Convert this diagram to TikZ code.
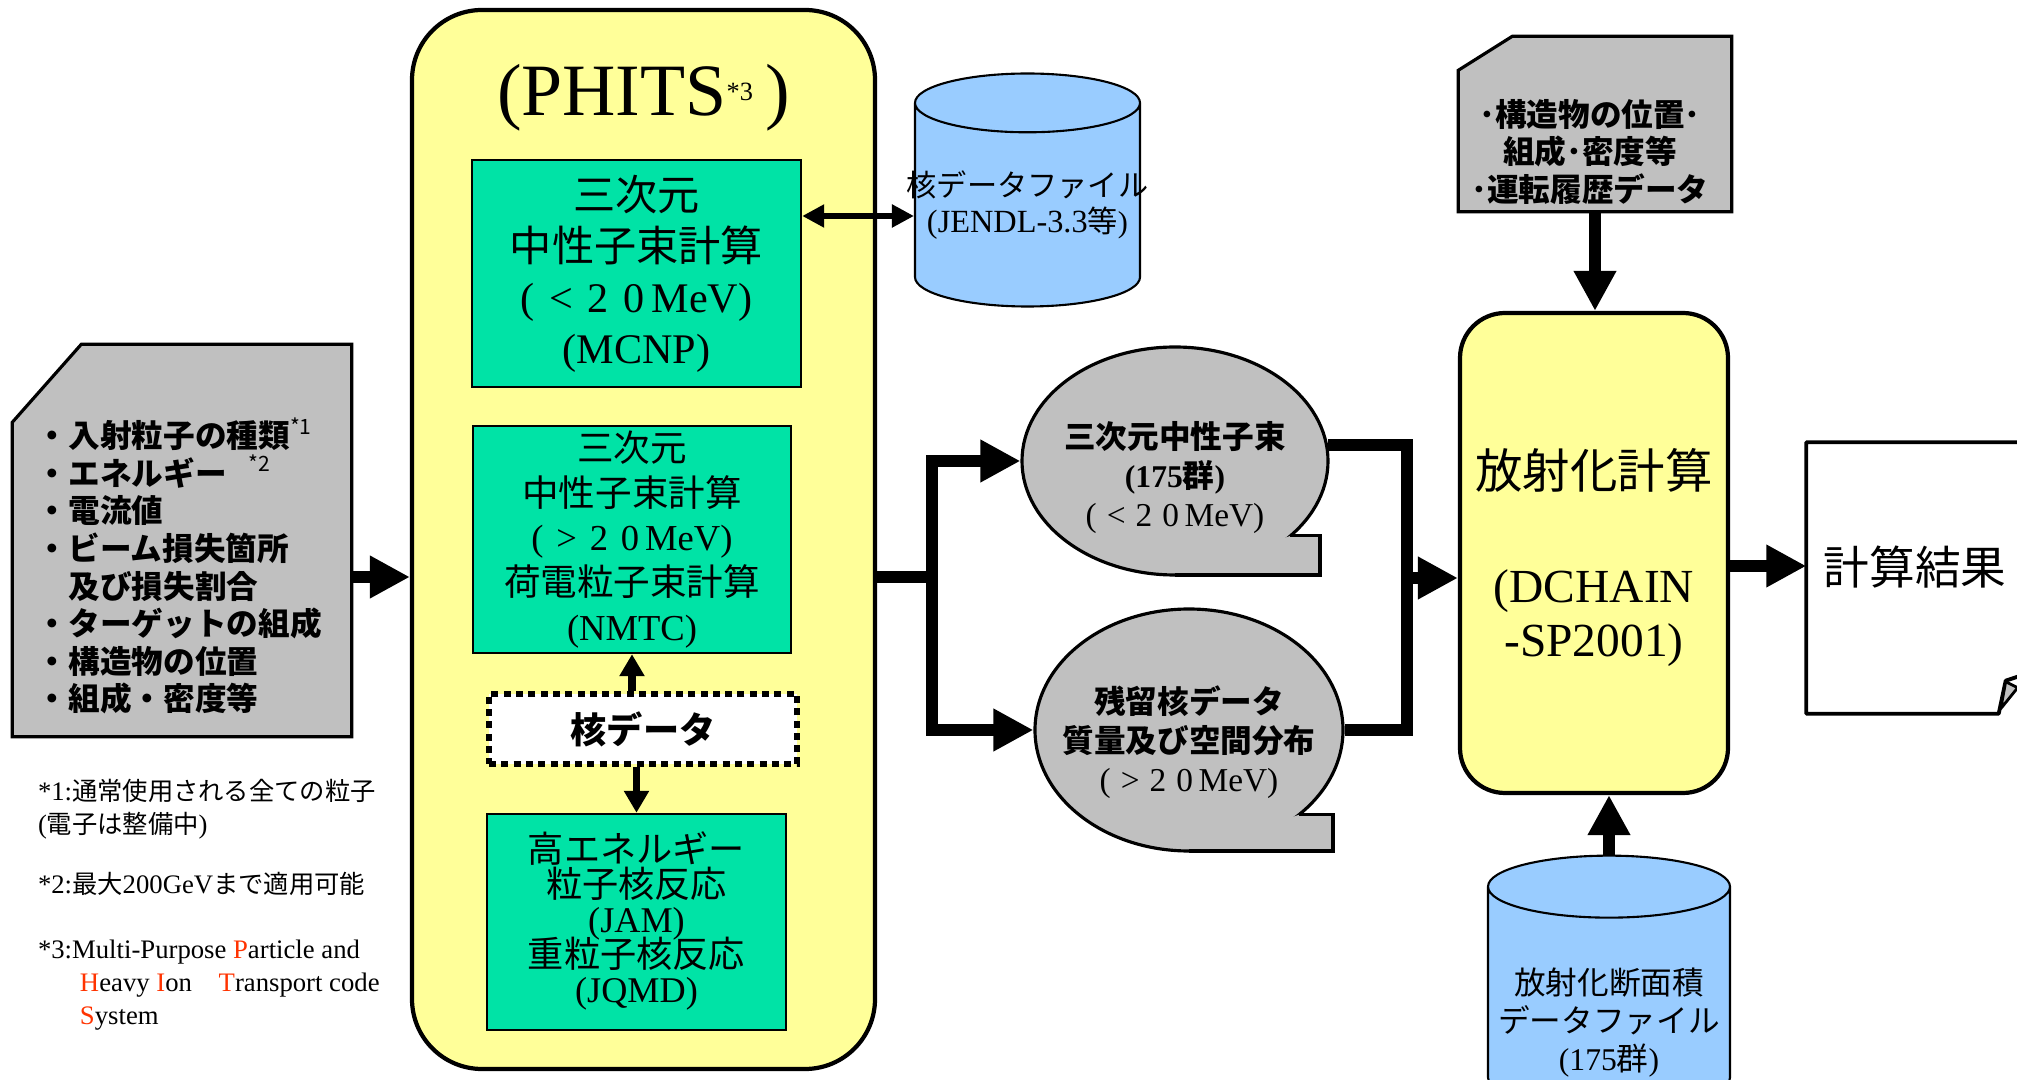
\documentclass[tikz,border=0pt]{standalone}
\usepackage{fontspec}
\setmainfont{Noto Sans CJK JP}
\newfontfamily\tm{Liberation Serif}
\usepackage{xcolor}
\usepackage{tikz}
\usetikzlibrary{positioning, arrows.meta, shapes.geometric}

\definecolor{phitsyellow}{HTML}{FFFF99}
\definecolor{codegreen}{HTML}{00E3A6}
\definecolor{datagray}{HTML}{C0C0C0}
\definecolor{fileblue}{HTML}{99CCFF}
\definecolor{notered}{HTML}{FF3300}

\newcommand\notetm{\tm\fontsize{7.6}{9.4}\selectfont}

\begin{document}
\begin{tikzpicture}[
    phitsbox/.style={
        draw,
        line width=1.2pt,
        fill=phitsyellow,
        rounded corners=7mm,
        minimum width=4.63cm,
        minimum height=10.59cm
    },
    calcbox/.style={
        draw,
        line width=1.2pt,
        fill=phitsyellow,
        rounded corners=4.5mm,
        align=center,
        inner sep=0pt,
        font=\fontsize{13.5}{15.4}\selectfont
    },
    module/.style={
        draw,
        line width=0.7pt,
        fill=codegreen,
        align=center,
        inner sep=0pt
    },
    nucdata/.style={
        draw,
        line width=1.6pt,
        dash pattern=on 2pt off 1.5pt,
        fill=white,
        minimum width=3.08cm,
        minimum height=0.70cm,
        font=\bfseries\fontsize{10.3}{12}\selectfont
    },
    card/.style={inner sep=0pt},
    cardline/.style={draw, line width=0.9pt, fill=datagray},
    items/.style={inner sep=0pt, align=left, font=\bfseries\fontsize{9}{10.7}\selectfont},
    drum/.style={
        cylinder,
        shape border rotate=90,
        aspect=0.28,
        draw,
        line width=0.6pt,
        fill=fileblue,
        align=center,
        inner sep=0pt
    },
    bubble/.style={
        ellipse,
        draw,
        line width=0.9pt,
        fill=datagray,
        align=center,
        inner xsep=-2mm,
        inner ysep=0pt,
        font=\bfseries\fontsize{9}{11}\selectfont
    },
    tail/.style={draw, line width=0.9pt, fill=datagray},
    doc/.style={draw, line width=1.1pt, line join=round},
    fold/.style={draw, line width=0.8pt, fill=datagray, line join=round},
    notes/.style={inner sep=0pt, align=left, font=\fontsize{7.2}{9.4}\selectfont},
    fat/.style={line width=3.2pt},
    fatarr/.style={-{Triangle[length=4mm, width=4mm]}, line width=3.2pt},
    thinarr/.style={-{Triangle[length=2.2mm, width=2.4mm]}, line width=2pt},
    dblarr/.style={{Triangle[length=2.2mm, width=2.2mm]}-{Triangle[length=2.2mm, width=2.2mm]}, line width=1.5pt}
]

\useasboundingbox (0, 0) rectangle (20.17, 10.79);
\clip (0, 0) rectangle (20.17, 10.79);

\node[card, minimum width=3.38cm, minimum height=3.91cm] (inp) at (1.82, 5.385) {};
\draw[cardline] (inp.south west) -- (inp.south east) -- (inp.north east)
    -- ([xshift=6.9mm]inp.north west) -- ([yshift=-7.8mm]inp.north west) -- cycle;
\node[items, anchor=west] (inplist) at ([xshift=2.4mm, yshift=-2.55mm]inp.west)
    {・入射粒子の種類\textsuperscript{\mdseries *1}\\
     ・エネルギー\hspace{0.7em}\textsuperscript{\mdseries *2}\\
     ・電流値\\
     ・ビーム損失箇所\\
     　及び損失割合\\
     ・ターゲットの組成\\
     ・構造物の位置\\
     ・組成・密度等};

\node[notes, below right=4.2mm and 2.5mm of inp.south west] (notes)
    {{\notetm*1:}通常使用される全ての粒子\\
     {\notetm(}電子は整備中{\notetm)}\\[7.7pt]
     {\notetm*2:}最大{\notetm200GeV}まで適用可能\\[9.1pt]
     {\notetm*3:Multi-Purpose \textcolor{notered}{P}article and}\\
     {\notetm\hspace*{4.2mm}\textcolor{notered}{H}eavy \textcolor{notered}{I}on\quad\textcolor{notered}{T}ransport code}\\
     {\notetm\hspace*{4.2mm}\textcolor{notered}{S}ystem}};

\node[phitsbox] (phits) at (6.435, 5.395) {};
\node[below=5.6mm of phits.north, inner sep=0pt, font=\tm\fontsize{21}{24}\selectfont] (phitsname)
    {(PHITS\raisebox{0.45ex}{\fontsize{7.5}{8}\selectfont *3}\,)};

\node[module, minimum width=3.29cm, minimum height=2.27cm, font=\fontsize{12}{14.5}\selectfont] (mcnp) at (6.365, 8.055)
    {三次元\\中性子束計算\\{\tm(\hspace{0.35em}<\hspace{0.35em}2\hspace{0.35em}0\,MeV)}\\{\tm(MCNP)}};
\node[module, minimum width=3.18cm, minimum height=2.27cm, font=\fontsize{10.4}{12.7}\selectfont] (nmtc) at (6.32, 5.395)
    {三次元\\中性子束計算\\{\tm(\hspace{0.35em}>\hspace{0.35em}2\hspace{0.35em}0\,MeV)}\\荷電粒子束計算\\{\tm(NMTC)}};
\node[nucdata] (nuc) at (6.43, 3.50) {核データ};
\node[module, minimum width=2.99cm, minimum height=2.16cm,
      font=\fontsize{10.3}{10}\selectfont\setlength{\lineskiplimit}{-5pt}] (jam) at (6.365, 1.57)
    {高エネルギー\\粒子核反応\\{\tm(JAM)}\\重粒子核反応\\{\tm(JQMD)}\rule[-1mm]{0pt}{0pt}};

\node[drum, anchor=shape center, minimum width=2.25cm, minimum height=2.33cm,
      font=\fontsize{8.6}{10.3}\selectfont] (jendl) at (10.275, 8.89)
    {\makebox[2.1cm]{核データファイル}\\{\tm\fontsize{9.2}{10.3}\selectfont(JENDL-3.3}等{\tm)}};

\node[bubble, minimum width=3.06cm, minimum height=2.28cm] (flux) at (11.75, 6.18)
    {\rule{0pt}{6mm}三次元中性子束\\{\tm(175}群{\tm)}\\{\mdseries\tm\fontsize{9.5}{11}\selectfont(\hspace{0.3em}<\hspace{0.3em}2\hspace{0.3em}0\,MeV)}};
\path[tail] ([shift={(1.153,-0.749)}]flux.center) -- ++(0.297, 0) -- ++(0, -0.391) -- ++(-1.45, 0);
\node[bubble, minimum width=3.08cm, minimum height=2.42cm] (resid) at (11.89, 3.49)
    {\rule{0pt}{5.2mm}残留核データ\\質量及び空間分布\\{\mdseries\tm\fontsize{9.5}{11}\selectfont(\hspace{0.3em}>\hspace{0.3em}2\hspace{0.3em}0\,MeV)}};
\path[tail] ([shift={(1.096,-0.849)}]resid.center) -- ++(0.344, 0) -- ++(0, -0.361) -- ++(-1.44, 0);

\node[calcbox, minimum width=2.68cm, minimum height=4.80cm] (dchain) at (15.94, 5.26)
    {\rule{0pt}{5mm}放射化計算\\[17pt]{\tm(DCHAIN}\\{\tm-SP2001)}};

\node[card, minimum width=2.72cm, minimum height=1.74cm] (geo) at (15.95, 9.55) {};
\draw[cardline] (geo.south west) -- (geo.south east) -- (geo.north east)
    -- ([xshift=5.4mm]geo.north west) -- ([yshift=-3.4mm]geo.north west) -- cycle;
\node[items, align=center] (geolist) at ([xshift=-0.5mm, yshift=-2.8mm]geo.center)
    {･構造物の位置･\\組成･密度等\\･運転履歴データ};

\node[drum, anchor=shape center, minimum width=2.42cm, minimum height=2.20cm,
      font=\fontsize{9}{10.8}\selectfont] (xsec) at (16.09, 0.97)
    {\rule{0pt}{7.6mm}放射化断面積\\データファイル\\{\tm(175}群{\tm)}};

\node[inner sep=0pt, minimum width=2.16cm, minimum height=2.70cm, font=\fontsize{13}{15}\selectfont] (res) at (19.15, 5.01)
    {\raisebox{-0.7mm}[0pt][0pt]{計算結果}};
\draw[doc] (res.north east) -- (res.north west) -- (res.south west) -- ([xshift=-2.5mm]res.south east)
    -- ([xshift=-1.8mm, yshift=3.3mm]res.south east) -- ([yshift=3.9mm]res.south east);
\path[fold] ([xshift=-2.3mm, yshift=0.5mm]res.south east) -- ([xshift=-1.8mm, yshift=3.2mm]res.south east)
    -- ([xshift=-0.6mm, yshift=2.6mm]res.south east) -- cycle;

\coordinate (fork) at (9.32, 5.02);
\coordinate (join) at (14.07, 5.01);

\draw[fatarr] (inp.east |- fork) -- (phits.west |- fork);
\draw[dblarr] ([yshift=5.75mm]mcnp.east) -- ([yshift=5.75mm]mcnp.east -| jendl.west);
\draw[thinarr] (nuc.north -| nmtc.south) -- (nmtc.south);
\draw[thinarr] (nuc.south -| jam.north) -- (jam.north);

\draw[fat] (phits.east |- fork) -- (fork);
\draw[fatarr] (fork) |- (flux.west);
\draw[fatarr] (fork) |- (resid.west);

\draw[fat] (flux.6) -| (join);
\draw[fat] (resid.east) -| (join);
\draw[fatarr] (join) -- (join -| dchain.west);

\draw[fatarr] (geo.south) -- (geo.south |- dchain.north);
\draw[fatarr] (xsec.north) -- (xsec.north |- dchain.south);
\draw[fatarr] ([yshift=1.2mm]res.west -| dchain.east) -- ([yshift=1.2mm]res.west);

\end{tikzpicture}
\end{document}
